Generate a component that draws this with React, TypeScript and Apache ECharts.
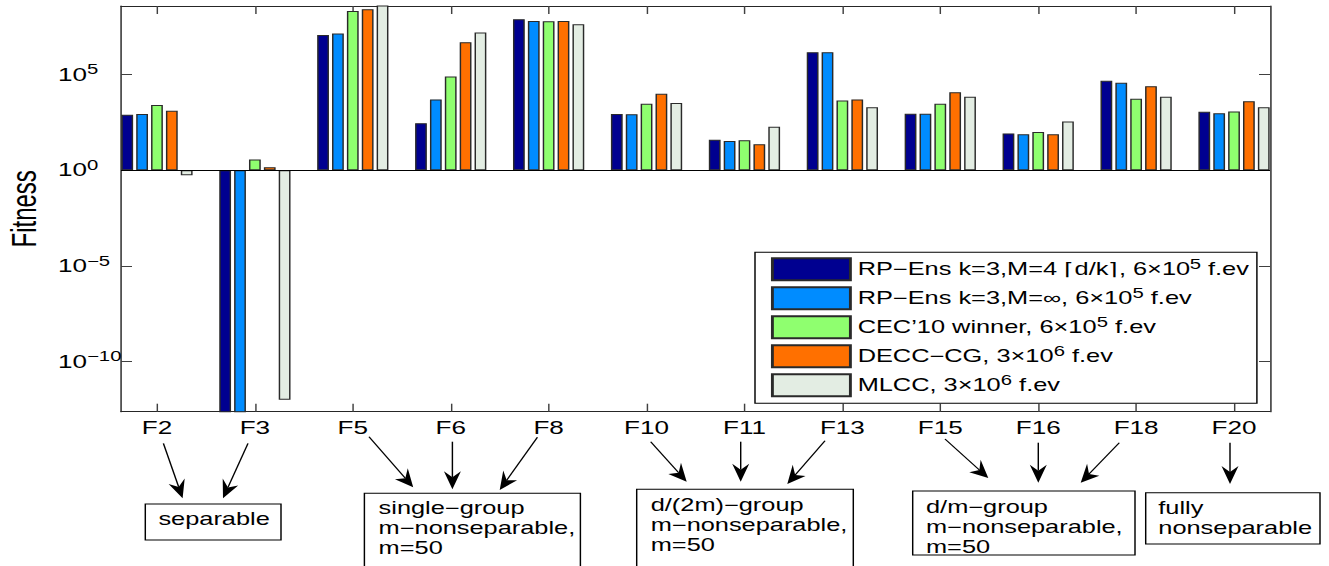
import React, { useEffect, useRef } from 'react';
import * as echarts from 'echarts';

// The reference figure is horizontally stretched; we draw in a narrower
// logical space and stretch the whole chart with a CSS scaleX.
const S = 1.45;
const W = 1329 / S;
const H = 566;
const FONT = '"Liberation Sans", Arial, Helvetica, sans-serif';

const CATEGORIES = ['F2', 'F3', 'F5', 'F6', 'F8', 'F10', 'F11', 'F13', 'F15', 'F16', 'F18', 'F20'];

const SERIES_NAMES = [
  'RP−Ens k=3,M=4 ⌈d/k⌉, 6×10^5 f.ev',
  'RP−Ens k=3,M=∞, 6×10^5 f.ev',
  'CEC’10 winner, 6×10^5 f.ev',
  'DECC−CG, 3×10^6 f.ev',
  'MLCC, 3×10^6 f.ev',
];
const SERIES_COLORS = ['#000090', '#008CFF', '#8FFF6F', '#FF7000', '#E3EDE3'];

// Fitness values (log-scale bars drawn from 10^0)
const RP_ENS_4DK = [8.1e2, 1e-14, 1.2e7, 2.9e2, 7.8e7, 8.7e2, 40, 1.5e6, 9.1e2, 85, 4.8e4, 1.15e3];
const RP_ENS_INF = [8.7e2, 1e-14, 1.4e7, 5.1e3, 6.3e7, 8.5e2, 34, 1.5e6, 9.1e2, 76, 3.8e4, 9.5e2];
const CEC10_WINNER = [2.6e3, 3.7, 2.1e8, 8.1e4, 6.2e7, 3.0e3, 37, 4.4e3, 3.0e3, 100, 5.5e3, 1.2e3];
const DECC_CG = [1.3e3, 1.45, 2.6e8, 4.9e6, 6.3e7, 1.0e4, 23, 5.1e3, 1.2e4, 76, 2.5e4, 4.1e3];
const MLCC = [0.55, 1e-12, 1e9, 1.6e7, 4.3e7, 3.3e3, 190, 2.0e3, 7.1e3, 360, 7.1e3, 2.0e3];
const SERIES_VALUES = [RP_ENS_4DK, RP_ENS_INF, CEC10_WINNER, DECC_CG, MLCC];

// y axis: exponents of 10
const Y_MIN_EXP = -12.62;
const Y_MAX_EXP = 8.59;
const Y_TICK_EXPS = [-10, -5, 0, 5];

// annotation texts / boxes / arrows (screen px of the reference)
const ANNOTATION_BOXES = [
  { text: 'separable', x0: 145.3, x1: 281, y0: 504, y1: 540, tx: 158.4, ty: 509 },
  { text: 'single−group\nm−nonseparable,\nm=50', x0: 364.4, x1: 580.4, y0: 493.3, y1: 575, tx: 378.6, ty: 498 },
  { text: 'd/(2m)−group\nm−nonseparable,\nm=50', x0: 636.7, x1: 853.3, y0: 489.3, y1: 575, tx: 650.7, ty: 495 },
  { text: 'd/m−group\nm−nonseparable,\nm=50', x0: 912.7, x1: 1135, y0: 491, y1: 555, tx: 926, ty: 497.3 },
  { text: 'fully\nnonseparable', x0: 1145.7, x1: 1320, y0: 492.7, y1: 544, tx: 1158.3, ty: 497.7 },
];
const ARROWS = [
  [163.4, 443.3, 182.6, 498.3],
  [248, 443.3, 223, 498.3],
  [369, 436.7, 413.2, 487.3],
  [452.4, 441.7, 452.4, 489.3],
  [537.4, 437.3, 499.7, 490],
  [650.7, 441.7, 686.7, 481.7],
  [740.7, 441.7, 740.7, 481.7],
  [825, 440.7, 787.3, 484],
  [945, 439, 988.3, 478],
  [1038.3, 442.7, 1038.3, 482.7],
  [1119.3, 442.7, 1080.7, 482.7],
  [1230, 442.7, 1230, 484],
];

function arrowElements(x1: number, y1: number, x2: number, y2: number) {
  const dx = x2 - x1;
  const dy = y2 - y1;
  const len = Math.hypot(dx, dy);
  const ux = dx / len;
  const uy = dy / len;
  const nx = -uy;
  const ny = ux;
  const L = 18;
  const w = 8.5;
  const d = 6;
  const bx = x2 - L * ux;
  const by = y2 - L * uy;
  const mx = x2 - (L - d) * ux;
  const my = y2 - (L - d) * uy;
  const pts = [
    [x2, y2],
    [bx + w * nx, by + w * ny],
    [mx, my],
    [bx - w * nx, by - w * ny],
  ].map(([x, y]) => [x / S, y]);
  return [
    {
      type: 'line',
      silent: true,
      shape: { x1: x1 / S, y1, x2: mx / S, y2: my },
      style: { stroke: '#000', lineWidth: 1 },
    },
    {
      type: 'polygon',
      silent: true,
      shape: { points: pts },
      style: { fill: '#000' },
    },
  ];
}

const expLabel = (v: number) => {
  const e = Math.round(v);
  const s = e < 0 ? '−' + Math.abs(e) : String(e);
  return `{b|10}{s|${s}}`;
};

export default function App() {
  const ref = useRef<HTMLDivElement>(null);

  useEffect(() => {
    if (!ref.current) return;
    document.body.style.overflow = 'hidden';
    const chart = echarts.init(ref.current, null, { renderer: 'svg', width: W, height: H });

    const xMin = 1 - 36 / 98;
    const xMax = CATEGORIES.length + 36 / 98;
    const catVals = CATEGORIES.map((_, i) => i + 1);
    const frame = { show: true, onZero: false, lineStyle: { color: '#262626', width: 1 } };

    const graphicEls: any[] = [];
    ARROWS.forEach(([a, b, c, d]) => graphicEls.push(...arrowElements(a, b, c, d)));
    ANNOTATION_BOXES.forEach((bx) => {
      graphicEls.push({
        type: 'rect',
        silent: true,
        shape: { x: bx.x0 / S, y: bx.y0, width: (bx.x1 - bx.x0) / S, height: bx.y1 - bx.y0 },
        style: { fill: '#fff', stroke: '#000', lineWidth: 1 },
      });
      graphicEls.push({
        type: 'text',
        silent: true,
        x: bx.tx / S,
        y: bx.ty,
        style: {
          text: bx.text,
          fontSize: 17.5,
          fontFamily: FONT,
          fill: '#000',
          lineHeight: 20,
          align: 'left',
          verticalAlign: 'top',
        },
      });
    });

    const axisTickIn = (len: number) => ({
      show: true,
      inside: true,
      length: len,
      lineStyle: { color: '#404040', width: 1 },
    });

    const supStyle = { fontSize: 14, lineHeight: 12, verticalAlign: 'top', fontFamily: FONT, color: '#000' };

    chart.setOption({
      animation: false,
      backgroundColor: '#fff',
      grid: {
        left: 121 / S,
        right: (1329 - 1270) / S,
        top: 6,
        bottom: H - 411.7,
        containLabel: false,
        outerBoundsMode: 'none',
      },
      legend: {
        orient: 'vertical',
        left: 755 / S,
        top: 252.3,
        padding: [5, 5.5, 6, 11],
        itemWidth: 78 / S,
        itemHeight: 22,
        itemGap: 5,
        icon: 'rect',
        borderColor: '#000',
        borderWidth: 1,
        backgroundColor: '#fff',
        selectedMode: false,
        data: SERIES_NAMES,
        formatter: (name: string) => name.replace(/\^(\d+)/, '{sup|$1}'),
        textStyle: {
          fontSize: 17.5,
          fontFamily: FONT,
          color: '#000',
          lineHeight: 24,
          rich: { sup: supStyle },
        },
      },
      xAxis: [
        {
          type: 'value',
          min: xMin,
          max: xMax,
          position: 'bottom',
          axisLine: frame,
          axisTick: { ...axisTickIn(8), customValues: catVals },
          splitLine: { show: false },
          axisLabel: {
            customValues: catVals,
            formatter: (v: number) => CATEGORIES[Math.round(v) - 1] ?? '',
            fontSize: 18,
            fontFamily: FONT,
            color: '#000',
            margin: 7,
          },
        },
        {
          type: 'value',
          min: xMin,
          max: xMax,
          position: 'top',
          axisLine: frame,
          axisTick: { ...axisTickIn(8), customValues: catVals },
          splitLine: { show: false },
          axisLabel: { show: false },
        },
      ],
      yAxis: [
        {
          type: 'value',
          min: Y_MIN_EXP,
          max: Y_MAX_EXP,
          position: 'left',
          name: 'Fitness',
          nameLocation: 'middle',
          nameRotate: 90,
          nameGap: 55,
          nameTextStyle: { fontSize: 24, fontFamily: FONT, color: '#000' },
          axisLine: frame,
          axisTick: { ...axisTickIn(11 / S), customValues: Y_TICK_EXPS },
          splitLine: { show: false },
          axisLabel: {
            customValues: Y_TICK_EXPS,
            formatter: expLabel,
            align: 'left',
            margin: (121 - 58) / S,
            color: '#000',
            rich: {
              b: { fontSize: 18, lineHeight: 24, fontFamily: FONT, color: '#000' },
              s: supStyle,
            },
          },
        },
        {
          type: 'value',
          min: Y_MIN_EXP,
          max: Y_MAX_EXP,
          position: 'right',
          axisLine: frame,
          axisTick: { ...axisTickIn(11 / S), customValues: Y_TICK_EXPS },
          splitLine: { show: false },
          axisLabel: { show: false },
        },
      ],
      series: SERIES_NAMES.map((name, si) => ({
        name,
        type: 'bar',
        xAxisIndex: 0,
        yAxisIndex: 0,
        barWidth: 11.8 / S,
        barGap: '26%',
        clip: true,
        itemStyle: { color: SERIES_COLORS[si], borderColor: '#2a2a2a', borderWidth: 1 },
        data: SERIES_VALUES[si].map((v, i) => [i + 1, Math.log10(v)]),
        markLine:
          si === 0
            ? {
                silent: true,
                symbol: ['none', 'none'],
                label: { show: false },
                lineStyle: { color: '#000', width: 1, type: 'solid' },
                data: [{ yAxis: 0 }],
              }
            : undefined,
      })),
      graphic: { elements: graphicEls },
    });

    return () => {
      chart.dispose();
    };
  }, []);

  return (
    <div
      style={{
        position: 'absolute',
        left: 0,
        top: 0,
        width: W,
        height: H,
        transform: `scaleX(${S})`,
        transformOrigin: '0 0',
        background: '#fff',
      }}
    >
      <div ref={ref} style={{ width: W, height: H }} />
    </div>
  );
}
